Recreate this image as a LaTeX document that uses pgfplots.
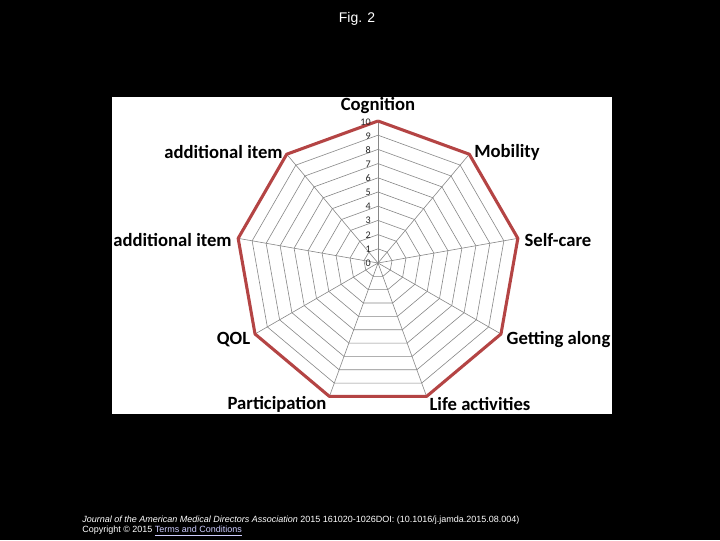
\documentclass[border=0pt]{standalone}
\usepackage{pgfplots}
\pgfplotsset{compat=1.18}
\usepackage{fontspec}
\setmainfont{Carlito}
\newfontfamily\arial{Liberation Sans}
\definecolor{excelred}{RGB}{180,68,68}
\definecolor{gridgray}{RGB}{135,135,135}
\definecolor{linkblue}{RGB}{205,205,255}
\begin{document}
\begin{tikzpicture}[x=0.75pt,y=0.75pt]
\fill[black] (0,0) rectangle (720,540);
\fill[white] (112,126) rectangle (612,443);
\begin{axis}[at={(283.5pt,207.75pt)}, anchor=center,
  x=10.65pt, y=10.65pt, hide axis,
  xmin=-13, xmax=13, ymin=-13, ymax=13, clip=false,
  data cs=polar]
\pgfplotsinvokeforeach{1,...,10}{
  \addplot[gridgray, line width=0.45pt, mark=none] coordinates {(90,#1)(50,#1)(10,#1)(-30,#1)(-70,#1)(-110,#1)(-150,#1)(170,#1)(130,#1)(90,#1)};
}
\pgfplotsinvokeforeach{90,50,10,-30,-70,-110,-150,170,130}{
  \addplot[gridgray, line width=0.45pt, mark=none] coordinates {(#1,0)(#1,10)};
}
\addplot[excelred, line width=2.3pt, line join=round, mark=none] coordinates {(90,10)(50,10)(10,10)(-30,10)(-70,10)(-110,10)(-150,10)(170,10)(130,10)(90,10)};
\end{axis}
\foreach \i in {0,...,10}{
  \node[font=\fontsize{7.6pt}{8pt}\selectfont, text=black!85, inner sep=0pt, anchor=east] at (371,277+14.1*\i) {\i};
}
\begin{scope}[every node/.style={font=\fontsize{14pt}{16pt}\selectfont\bfseries, inner sep=0pt}]
\node at (378,434) {Cognition};
\node at (507,388) {Mobility};
\node at (558,300) {Self-care};
\node at (558.5,200) {Getting along};
\node at (480,136) {Life activities};
\node at (277,136) {Participation};
\node at (233.5,200) {QOL};
\node at (172.5,300) {additional item};
\node at (223.5,388) {additional item};
\end{scope}
\node[font=\arial\fontsize{10.5pt}{12pt}\selectfont, text=white, inner sep=0pt] at (357,521) {Fig. 2};
\node[font=\arial\fontsize{6.75pt}{7pt}\selectfont, text=white, inner sep=0pt, anchor=west] at (82,20) {\textit{Journal of the American Medical Directors Association} 2015 161020-1026DOI: (10.1016/j.jamda.2015.08.004)};
\node[font=\arial\fontsize{6.75pt}{7pt}\selectfont, text=white, inner sep=0pt, anchor=west] at (82,9) {Copyright © 2015 \textcolor{linkblue}{\underline{Terms and Conditions}}};
\end{tikzpicture}
\end{document}
